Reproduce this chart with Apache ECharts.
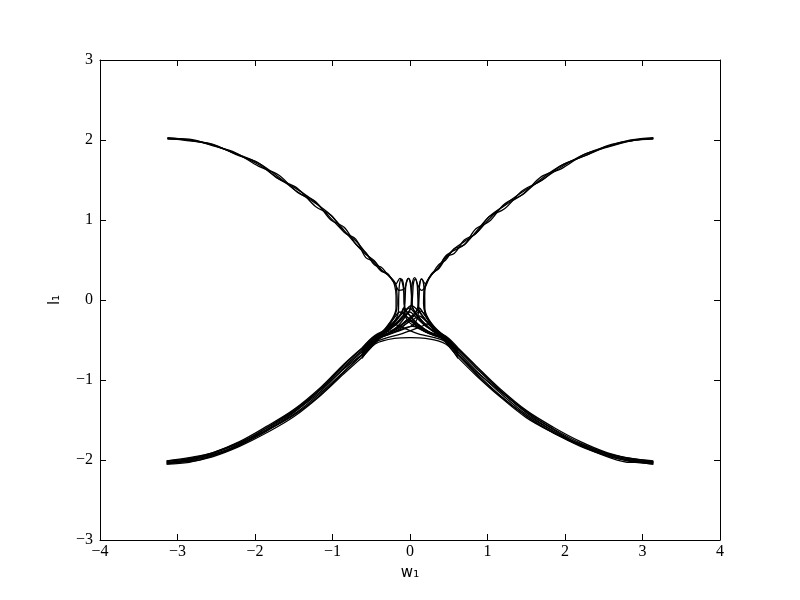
<!DOCTYPE html>
<html>
<head>
<meta charset="utf-8">
<script src="https://cdn.jsdelivr.net/npm/echarts@6/dist/echarts.min.js"></script>
<style>
  html, body { margin: 0; padding: 0; background: #fff; }
  #chart { width: 800px; height: 600px; }
</style>
</head>
<body>
<div id="chart"></div>
<script>
// axis ticks
var xTicks = [-4, -3, -2, -1, 0, 1, 2, 3, 4];
var yTicks = [-3, -2, -1, 0, 1, 2, 3];

// lower left band (w from -pi to the neck)
var lowerLeftX = [-3.14, -2.85, -2.55, -2.2, -1.85, -1.5, -1.15, -0.85, -0.62];
var lowerLeftY = [
  [-2.02, -1.98, -1.91, -1.77, -1.58, -1.37, -1.09, -0.80, -0.60],
  [-2.04, -2.00, -1.92, -1.79, -1.60, -1.39, -1.11, -0.83, -0.63],
  [-2.01, -1.99, -1.93, -1.81, -1.62, -1.40, -1.14, -0.85, -0.65],
  [-2.05, -2.01, -1.95, -1.82, -1.63, -1.43, -1.16, -0.89, -0.69],
  [-2.03, -2.02, -1.96, -1.83, -1.66, -1.46, -1.19, -0.92, -0.72],
  [-2.05, -2.03, -1.95, -1.80, -1.60, -1.38, -1.12, -0.86, -0.68],
  [-2.01, -1.97, -1.91, -1.78, -1.63, -1.44, -1.18, -0.90, -0.68],
  [-2.03, -2.00, -1.94, -1.81, -1.64, -1.41, -1.11, -0.81, -0.61]
];

// lower right band (neck out to +pi)
var lowerRightX = [0.62, 0.85, 1.15, 1.5, 1.85, 2.2, 2.55, 2.85, 3.14];
var lowerRightY = [
  [-0.60, -0.82, -1.10, -1.38, -1.59, -1.77, -1.91, -1.98, -2.02],
  [-0.63, -0.85, -1.12, -1.40, -1.61, -1.79, -1.92, -1.99, -2.04],
  [-0.65, -0.88, -1.15, -1.43, -1.64, -1.81, -1.94, -2.00, -2.02],
  [-0.69, -0.91, -1.18, -1.45, -1.66, -1.83, -1.95, -2.02, -2.05],
  [-0.72, -0.94, -1.20, -1.47, -1.66, -1.82, -1.96, -2.03, -2.03],
  [-0.68, -0.89, -1.13, -1.39, -1.62, -1.81, -1.93, -2.01, -2.05],
  [-0.68, -0.92, -1.19, -1.45, -1.66, -1.80, -1.92, -1.98, -2.01],
  [-0.61, -0.83, -1.12, -1.41, -1.64, -1.82, -1.95, -2.01, -2.03]
];

// upper left branch, then its path through the neck
var upperLeftX = [-3.13, -2.85, -2.55, -2.25, -1.95, -1.7, -1.45, -1.22, -1.02, -0.85, -0.7, -0.57, -0.46, -0.37, -0.29];
var upperLeftY = [
  [2.02, 2.01, 1.93, 1.84, 1.67, 1.565, 1.345, 1.23, 1.00, 0.91, 0.70, 0.59, 0.44, 0.41, 0.32],
  [2.02, 1.99, 1.95, 1.82, 1.71, 1.515, 1.395, 1.17, 1.06, 0.85, 0.76, 0.53, 0.48, 0.37, 0.32],
  [2.03, 2.00, 1.94, 1.83, 1.71, 1.54, 1.35, 1.21, 1.06, 0.87, 0.70, 0.57, 0.49, 0.38, 0.32],
  [2.01, 2.00, 1.94, 1.83, 1.69, 1.52, 1.38, 1.22, 1.02, 0.85, 0.74, 0.59, 0.46, 0.36, 0.33]
];
var upperLeftNeck = [
  [[-0.23, 0.26], [-0.19, 0.21], [-0.17, 0.1], [-0.165, -0.05], [-0.19, -0.18], [-0.27, -0.3], [-0.36, -0.4], [-0.45, -0.47], [-0.62, -0.64]],
  [[-0.22, 0.25], [-0.18, 0.2], [-0.155, 0.24], [-0.13, 0.27], [-0.1, 0.22], [-0.08, 0.1], [-0.075, -0.05], [-0.04, -0.15], [0.1, -0.3], [0.3, -0.43], [0.46, -0.49], [0.62, -0.66]],
  [[-0.24, 0.27], [-0.2, 0.19], [-0.18, 0.05], [-0.18, -0.1], [-0.22, -0.22], [-0.32, -0.36], [-0.45, -0.5], [-0.62, -0.68]],
  [[-0.23, 0.25], [-0.19, 0.2], [-0.14, 0.12], [-0.07, 0.14], [-0.045, 0.22], [-0.02, 0.27], [0.005, 0.2], [0.02, 0.05], [0.03, -0.08], [0.1, -0.2], [0.28, -0.38], [0.46, -0.46], [0.62, -0.62]]
];

// path through the neck, then upper right branch out to +pi
var upperRightNeck = [
  [[0.62, -0.64], [0.46, -0.47], [0.35, -0.4], [0.27, -0.3], [0.2, -0.18], [0.175, -0.05], [0.18, 0.1], [0.2, 0.2], [0.24, 0.26]],
  [[-0.62, -0.66], [-0.45, -0.49], [-0.25, -0.4], [-0.02, -0.25], [0.09, -0.12], [0.115, 0.05], [0.125, 0.2], [0.15, 0.265], [0.175, 0.23], [0.2, 0.2], [0.23, 0.25]],
  [[0.62, -0.69], [0.46, -0.51], [0.33, -0.36], [0.23, -0.22], [0.19, -0.1], [0.19, 0.05], [0.2, 0.17], [0.24, 0.27]],
  [[-0.62, -0.61], [-0.45, -0.45], [-0.2, -0.36], [-0.04, -0.18], [0.02, -0.06], [0.035, 0.08], [0.045, 0.21], [0.07, 0.26], [0.1, 0.19], [0.15, 0.12], [0.2, 0.17], [0.25, 0.28]]
];
var upperRightX = [0.29, 0.37, 0.46, 0.57, 0.7, 0.85, 1.02, 1.22, 1.45, 1.7, 1.95, 2.25, 2.55, 2.85, 3.14];
var upperRightY = [
  [0.33, 0.44, 0.50, 0.64, 0.69, 0.89, 0.98, 1.20, 1.315, 1.545, 1.64, 1.82, 1.91, 1.99, 2.02],
  [0.33, 0.40, 0.54, 0.58, 0.75, 0.83, 1.04, 1.14, 1.365, 1.495, 1.68, 1.80, 1.93, 1.99, 2.02],
  [0.33, 0.41, 0.55, 0.62, 0.69, 0.85, 1.04, 1.18, 1.32, 1.52, 1.68, 1.80, 1.92, 2.00, 2.03],
  [0.34, 0.39, 0.52, 0.64, 0.73, 0.83, 1.01, 1.19, 1.35, 1.50, 1.66, 1.82, 1.92, 1.99, 2.01]
];

// tall arches in the neck, feet flaring out to both bands
var arches = [
  [[-0.62, -0.70], [-0.45, -0.52], [-0.3, -0.36], [-0.14, -0.2], [-0.07, -0.08], [-0.06, 0.08], [-0.05, 0.21], [-0.02, 0.27], [0.01, 0.21], [0.02, 0.08], [0.03, -0.08], [0.1, -0.2], [0.24, -0.34], [0.46, -0.5], [0.62, -0.68]],
  [[-0.62, -0.63], [-0.45, -0.47], [-0.25, -0.36], [-0.08, -0.22], [0.01, -0.1], [0.02, 0.06], [0.03, 0.21], [0.06, 0.28], [0.09, 0.21], [0.1, 0.06], [0.11, -0.1], [0.18, -0.22], [0.3, -0.36], [0.46, -0.47], [0.62, -0.63]],
  [[-0.62, -0.67], [-0.45, -0.5], [-0.18, -0.4], [0.05, -0.3], [0.11, -0.15], [0.115, 0.05], [0.125, 0.2], [0.15, 0.26], [0.175, 0.2], [0.185, 0.05], [0.19, -0.15], [0.25, -0.28], [0.35, -0.4], [0.46, -0.48], [0.62, -0.65]],
  [[-0.62, -0.65], [-0.45, -0.48], [-0.33, -0.4], [-0.21, -0.28], [-0.15, -0.15], [-0.145, 0.05], [-0.135, 0.2], [-0.11, 0.26], [-0.085, 0.2], [-0.075, 0.05], [-0.07, -0.15], [-0.01, -0.28], [0.2, -0.4], [0.46, -0.49], [0.62, -0.67]]
];

// low humps making the crossed mesh
var humps = [
  [[-0.62, -0.62], [-0.45, -0.46], [-0.25, -0.32], [-0.08, -0.15], [0.02, -0.07], [0.1, -0.13], [0.25, -0.3], [0.46, -0.46], [0.62, -0.62]],
  [[-0.62, -0.69], [-0.45, -0.51], [-0.28, -0.37], [-0.15, -0.26], [-0.08, -0.2], [0.0, -0.24], [0.2, -0.38], [0.46, -0.5], [0.62, -0.67]],
  [[-0.62, -0.66], [-0.45, -0.49], [-0.2, -0.38], [0.05, -0.24], [0.12, -0.2], [0.2, -0.26], [0.32, -0.37], [0.46, -0.48], [0.62, -0.64]],
  [[-0.62, -0.72], [-0.45, -0.54], [-0.3, -0.38], [-0.22, -0.3], [-0.15, -0.32], [0.1, -0.42], [0.46, -0.52], [0.62, -0.7]],
  [[-0.62, -0.71], [-0.45, -0.53], [-0.1, -0.42], [0.15, -0.33], [0.22, -0.3], [0.3, -0.37], [0.46, -0.53], [0.62, -0.72]],
  [[-0.62, -0.64], [-0.45, -0.48], [-0.2, -0.4], [0.03, -0.33], [0.25, -0.4], [0.46, -0.47], [0.62, -0.63]],
  [[-0.62, -0.73], [-0.45, -0.55], [-0.2, -0.48], [0.0, -0.47], [0.2, -0.48], [0.46, -0.55], [0.62, -0.73]],
  [[-0.62, -0.6], [-0.45, -0.44], [-0.22, -0.33], [-0.05, -0.17], [0.0, -0.15], [0.06, -0.2], [0.22, -0.34], [0.46, -0.45], [0.62, -0.6]],
  [[-0.62, -0.67], [-0.45, -0.5], [-0.3, -0.4], [-0.12, -0.24], [-0.04, -0.12], [0.0, -0.1], [0.04, -0.14], [0.15, -0.27], [0.3, -0.39], [0.46, -0.49], [0.62, -0.66]],
  [[-0.62, -0.7], [-0.45, -0.52], [-0.28, -0.42], [-0.1, -0.3], [-0.03, -0.25], [0.05, -0.29], [0.2, -0.4], [0.46, -0.51], [0.62, -0.69]],
  [[-0.62, -0.63], [-0.45, -0.47], [-0.32, -0.38], [-0.2, -0.22], [-0.13, -0.15], [-0.05, -0.2], [0.1, -0.34], [0.3, -0.44], [0.46, -0.49], [0.62, -0.66]],
  [[-0.62, -0.66], [-0.45, -0.49], [-0.3, -0.44], [-0.1, -0.34], [0.05, -0.2], [0.14, -0.14], [0.2, -0.2], [0.32, -0.36], [0.46, -0.47], [0.62, -0.64]],
  [[-0.62, -0.68], [-0.45, -0.51], [-0.25, -0.34], [-0.12, -0.18], [-0.08, -0.1], [-0.03, -0.16], [0.1, -0.3], [0.28, -0.42], [0.46, -0.5], [0.62, -0.68]],
  [[-0.62, -0.65], [-0.45, -0.48], [-0.28, -0.42], [-0.1, -0.3], [0.08, -0.15], [0.12, -0.1], [0.17, -0.16], [0.28, -0.3], [0.46, -0.48], [0.62, -0.66]]
];

function zip(xs, ys) {
  var out = [];
  for (var i = 0; i < xs.length; i++) out.push([xs[i], ys[i]]);
  return out;
}

var strands = [];
lowerLeftY.forEach(function (ys) { strands.push(zip(lowerLeftX, ys)); });
lowerRightY.forEach(function (ys) { strands.push(zip(lowerRightX, ys)); });
upperLeftY.forEach(function (ys, i) { strands.push(zip(upperLeftX, ys).concat(upperLeftNeck[i])); });
upperRightY.forEach(function (ys, i) { strands.push(upperRightNeck[i].concat(zip(upperRightX, ys))); });
arches.forEach(function (a) { strands.push(a); });
humps.forEach(function (h) { strands.push(h); });

var series = strands.map(function (d) {
  return {
    type: 'line',
    data: d,
    smooth: 0.35,
    showSymbol: false,
    silent: true,
    lineStyle: { color: '#000', width: 1.3 }
  };
});

function minus(v) { return String(v).replace('-', '\u2212'); }

var labelFont = { fontFamily: 'Liberation Serif', fontSize: 16, color: '#000' };
var tickStyle = { show: true, inside: true, length: 6, lineStyle: { color: '#000', width: 1 } };
var lineStyle = { show: true, onZero: false, lineStyle: { color: '#000', width: 1 } };

var myChart = echarts.init(document.getElementById('chart'));

var option = {
  animation: false,
  backgroundColor: '#fff',
  grid: { left: 100, right: 80, top: 60, bottom: 60, containLabel: false },
  xAxis: [{
    type: 'value', position: 'bottom',
    min: xTicks[0], max: xTicks[xTicks.length - 1], interval: 1,
    name: 'w\u2081', nameLocation: 'middle', nameGap: 26,
    nameTextStyle: { fontFamily: 'DejaVu Sans', fontSize: 15, color: '#000' },
    axisLine: lineStyle, axisTick: tickStyle, splitLine: { show: false },
    axisLabel: Object.assign({ margin: 4, formatter: minus }, labelFont)
  }, {
    type: 'value', position: 'top',
    min: xTicks[0], max: xTicks[xTicks.length - 1], interval: 1,
    axisLine: lineStyle, axisTick: tickStyle, splitLine: { show: false },
    axisLabel: { show: false }
  }],
  yAxis: [{
    type: 'value', position: 'left',
    min: yTicks[0], max: yTicks[yTicks.length - 1], interval: 1,
    name: 'l\u2081', nameLocation: 'middle', nameGap: 37, nameRotate: 90,
    nameTextStyle: { fontFamily: 'DejaVu Sans', fontSize: 15, color: '#000' },
    axisLine: lineStyle, axisTick: tickStyle, splitLine: { show: false },
    axisLabel: Object.assign({ margin: 7, formatter: minus }, labelFont)
  }, {
    type: 'value', position: 'right',
    min: yTicks[0], max: yTicks[yTicks.length - 1], interval: 1,
    axisLine: lineStyle, axisTick: tickStyle, splitLine: { show: false },
    axisLabel: { show: false }
  }],
  series: series
};

myChart.setOption(option);
</script>
</body>
</html>
